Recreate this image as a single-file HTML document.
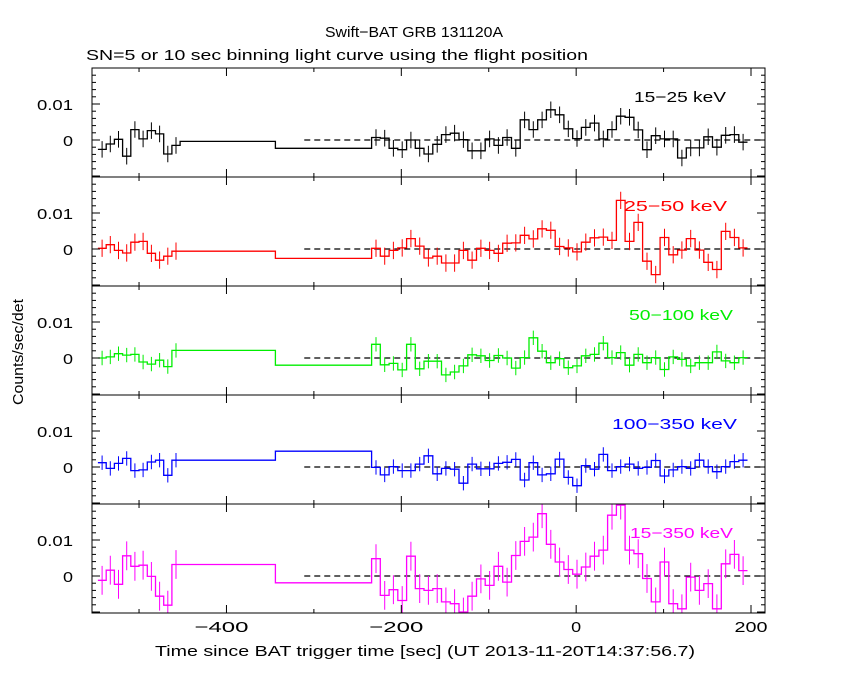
<!DOCTYPE html>
<html><head><meta charset="utf-8">
<style>
html,body{margin:0;padding:0;background:#fff;}
svg{display:block;font-family:"Liberation Sans",sans-serif;}
</style></head>
<body>
<svg id="chart" width="850" height="680" xmlns="http://www.w3.org/2000/svg">
<text x="325" y="37" font-size="15" textLength="178" lengthAdjust="spacingAndGlyphs">Swift−BAT GRB 131120A</text>
<text x="86" y="60" font-size="15" textLength="502" lengthAdjust="spacingAndGlyphs">SN=5 or 10 sec binning light curve using the flight position</text>
<text x="0" y="0" font-size="15" textLength="106" lengthAdjust="spacingAndGlyphs" text-anchor="middle" transform="translate(23,352) rotate(-90)">Counts/sec/det</text>
<text x="155" y="656" font-size="15" textLength="540" lengthAdjust="spacingAndGlyphs">Time since BAT trigger time [sec] (UT 2013-11-20T14:37:56.7)</text>
<g id="plots"></g>
</svg>
<script>
const bandLabels = ["15−25 keV","25−50 keV","50−100 keV","100−350 keV","15−350 keV"];
const bandColors = ["#000000","#ff0000","#00ee00","#0000ff","#ff00ff"];
const bandErrors = [2.3, 2.4, 2.0, 2.0, 4.0];
const xTicks = [-400,-200,0,200];
const xMinorTicks = [-500,-300,-100,100];
const firstGroupStart = -547, firstGroupEnd = -453, firstGroupBins = 10;
const longEdges = [-453,-344,-234];
const regularStart = -234, regularWidth = 10;
const s1First = [-2.6,-1.1,0.2,-4.5,2.9,0.3,2.6,1.7,-3.9,-1.5];
const s1Long = [-0.4,-2.3];
const s1Reg = [0.7,0.5,-2.3,-2.7,0,-2.3,-3.9,-1.2,1.5,1.9,0.1,-3.0,-3.0,0.3,-1.5,0.7,-2.3,5.6,2.9,5.6,8.4,7.0,3.1,0.4,3.5,4.7,0.3,2.9,6.6,6.3,2.8,-2.7,1.2,0.3,0.3,-5.0,-2.2,-2.2,0.9,-2.0,1.3,1.5,-0.6];
const s2First = [0.2,1.2,-0.4,-1.1,1.9,2.1,-1.2,-3.1,-2.0,-0.6];
const s2Long = [-0.6,-2.6];
const s2Reg = [0.2,-2.0,-0.4,0.3,2.9,0.8,-2.5,-2.0,-3.9,-3.9,-0.4,-3.1,0.2,-0.4,-1.2,1.6,1.7,3.8,2.8,5.6,5.2,0.7,0.3,-0.8,1.9,3.1,3.3,2.4,13.5,2.1,7.4,-3.4,-7.1,3.2,-1.6,-0.3,2.9,-0.3,-3.7,-5.7,4.9,3.2,0.3];
const s3First = [0,0.3,1.2,0.8,1.0,-1.1,-1.7,-0.6,-2.4,2.1];
const s3Long = [2.1,-2.0];
const s3Reg = [3.8,-1.9,-1.5,-3.3,3.8,-3.0,-0.9,-0.9,-4.7,-3.9,-2.2,0.9,0.6,-0.7,0.7,0,-2.8,0.1,5.6,1.9,-1.3,-0.2,-2.7,-2.2,0.6,1.0,4.1,0.1,1.5,-2.0,1.0,-1.3,0.1,-3.2,0.3,-0.4,-2.2,-1.3,-1.3,1.7,-0.8,-1.3,0.1];
const s4First = [1.2,-0.4,1.0,2.4,-1.0,-0.8,1.4,1.9,-2.3,1.9];
const s4Long = [1.9,4.4];
const s4Reg = [-0.1,-2.2,0.1,-1.0,-1.0,0.8,3.1,-1.9,-0.4,-0.6,-4.5,0.8,-0.5,-0.5,1.0,1.3,2.1,-3.6,1.2,-2.2,-1.9,2.2,-2.9,-5.2,0.4,-0.6,3.5,-1.0,0.1,0.8,-0.4,-0.1,1.8,-2.5,-0.8,0.1,-0.4,1.9,0.1,-1.3,0.1,1.5,1.9];
const s5First = [-1.2,1.6,-2.3,5.6,2.7,3.0,-0.1,-5.6,-8.1,3.2];
const s5Long = [3.2,-1.9];
const s5Reg = [4.8,-5.4,-3.8,-6.8,5.5,-3.5,-4.0,-3.5,-7.2,-7.7,-10.0,-5.6,-0.8,-2.6,2.7,-1.7,5.7,9.6,10.8,17.3,8.8,3.9,1.8,0.5,2.5,5.5,7.2,16.9,19.7,7.2,6.2,-0.7,-7.2,3.9,-7.7,-9.1,-0.3,-4.0,-2.1,-9.1,3.4,6.0,1.5];

const firstSets=[s1First,s2First,s3First,s4First,s5First];
const longSets=[s1Long,s2Long,s3Long,s4Long,s5Long];
const regSets=[s1Reg,s2Reg,s3Reg,s4Reg,s5Reg];
const labelStart=[634,624,629,612,630];
const labelWidth=[92,103,104,125,103];

const NS="http://www.w3.org/2000/svg";
const L=92,R=765,T0=68,PH=109;
const tMin=-553.8,tMax=216;
const X=t=>L+(t-tMin)/(tMax-tMin)*(R-L);
const Y=(p,v)=>T0+p*PH+72-v*3.6;
const root=document.getElementById('plots');
function mk(tag,attrs,parent){const e=document.createElementNS(NS,tag);for(const k in attrs)e.setAttribute(k,attrs[k]);(parent||root).appendChild(e);return e;}

for(let p=0;p<5;p++){
  const top=T0+p*PH, bot=top+PH;
  const g=mk('g',{});
  
  
  const cp=mk('clipPath',{id:'cp'+p},g);
  mk('rect',{x:L,y:top,width:R-L,height:PH},cp);
  const z=mk('line',{x1:X(-311),x2:R,y1:Y(p,0),y2:Y(p,0),stroke:'#000','stroke-dasharray':'6,4','stroke-width':1.3},g);
  
  
  const bins=[];
  const fw=(firstGroupEnd-firstGroupStart)/firstGroupBins;
  firstSets[p].forEach((v,i)=>bins.push({a:firstGroupStart+i*fw,b:firstGroupStart+(i+1)*fw,v,e:true}));
  longSets[p].forEach((v,i)=>bins.push({a:longEdges[i],b:longEdges[i+1],v,e:false}));
  regSets[p].forEach((v,i)=>bins.push({a:regularStart+i*regularWidth,b:regularStart+(i+1)*regularWidth,v,e:true}));
  let d='';
  bins.forEach((bn,i)=>{
    const y=Y(p,bn.v);
    d+=(i===0?'M':'L')+X(bn.a).toFixed(1)+','+y.toFixed(1)+'L'+X(bn.b).toFixed(1)+','+y.toFixed(1);
  });
  const path=mk('path',{d,fill:'none',stroke:bandColors[p],'stroke-width':1.3,'clip-path':'url(#cp'+p+')'},g);
  
  
  let ed='';
  bins.forEach(bn=>{ if(!bn.e) return; const xc=X((bn.a+bn.b)/2);
    ed+='M'+xc.toFixed(1)+','+Y(p,bn.v+bandErrors[p]).toFixed(1)+'L'+xc.toFixed(1)+','+Y(p,bn.v-bandErrors[p]).toFixed(1);});
  const eb=mk('path',{d:ed,stroke:bandColors[p],'stroke-width':1,'clip-path':'url(#cp'+p+')'},g);
  
  
  const fr=mk('rect',{x:L,y:top,width:R-L,height:PH,fill:'none',stroke:'#000','stroke-width':1},g);
  
  
  for(let v=-10;v<=20;v+=2){const y=Y(p,v); if(y<top||y>bot)continue; const len=(v%10===0)?8:4;
    mk('line',{x1:L,x2:L+len,y1:y,y2:y,stroke:'#000'},g); mk('line',{x1:R,x2:R-len,y1:y,y2:y,stroke:'#000'},g);}
  [[0,'0',63,10],[10,'0.01',37,36]].forEach(([v,s,x0,w])=>{const t=mk('text',{x:x0,y:Y(p,v)+6,'font-size':15,textLength:w,lengthAdjust:'spacingAndGlyphs'},g);t.textContent=s;
    
    });
  xTicks.forEach(t=>{const x=X(t);mk('line',{x1:x,x2:x,y1:top,y2:top+8,stroke:'#000'},g);mk('line',{x1:x,x2:x,y1:bot,y2:bot-8,stroke:'#000'},g);});
  xMinorTicks.forEach(t=>{const x=X(t);mk('line',{x1:x,x2:x,y1:top,y2:top+4,stroke:'#000'},g);mk('line',{x1:x,x2:x,y1:bot,y2:bot-4,stroke:'#000'},g);});
  const lb=mk('text',{x:labelStart[p],y:top+34,'font-size':15,fill:bandColors[p],textLength:labelWidth[p],lengthAdjust:'spacingAndGlyphs'},g);
  lb.textContent=bandLabels[p];
  
  
}
xTicks.forEach(t=>{const s=t<0?'−'+(-t):String(t);const w=s.length*11+(t<0?10:0)-(t===0?1:0);
  const e=mk('text',{x:X(t)+(t<0?-5:0),y:632,'font-size':15,'text-anchor':'middle',textLength:w,lengthAdjust:'spacingAndGlyphs'});e.textContent=s;
  
  });
</script>
</body></html>
